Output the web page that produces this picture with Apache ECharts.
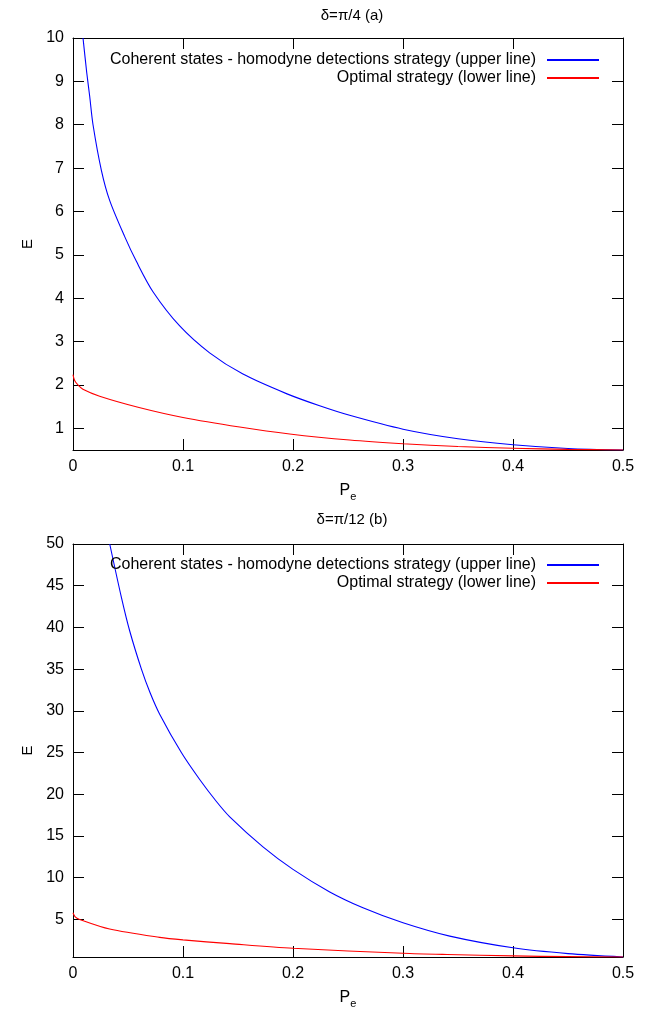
<!DOCTYPE html>
<html>
<head>
<meta charset="utf-8">
<script src="https://cdn.jsdelivr.net/npm/echarts@6/dist/echarts.min.js"></script>
<style>
html,body{margin:0;padding:0;background:#fff;}
#main{width:665px;height:1019px;}
</style>
</head>
<body>
<div id="main"></div>
<script>
// ---- data ----
const titleA = 'δ=π/4 (a)';
const titleB = 'δ=π/12 (b)';
const nameUpper = 'Coherent states - homodyne detections strategy (upper line)';
const nameLower = 'Optimal strategy (lower line)';

// Plot (a): delta = pi/4
const upperA_Pe = [0.0091,0.0125,0.0152,0.0182,0.0258,0.0334,0.047,0.0576,0.0727,0.097,0.1242,0.1545,0.194,0.2242,0.2515,0.3,0.35,0.4,0.45,0.5];
const upperA_E  = [10,9.2,8.65,8.0,6.95,6.25,5.42,4.85,4.15,3.36,2.74,2.25,1.80,1.52,1.30,0.98,0.76,0.62,0.535,0.5];
const lowerA_Pe = [0,0.0015,0.0045,0.009,0.0242,0.06,0.1,0.1515,0.197,0.2515,0.3,0.35,0.4,0.45,0.5];
const lowerA_E  = [2.24,2.1,2.0,1.9,1.74,1.48,1.25,1.03,0.87,0.73,0.645,0.58,0.54,0.515,0.5];

// Plot (b): delta = pi/12
const upperB_Pe = [0.0334,0.044,0.0515,0.0622,0.07,0.0788,0.0985,0.115,0.13,0.1425,0.1727,0.2,0.2334,0.2636,0.3,0.3425,0.4,0.45,0.5];
const upperB_E  = [50,43.6,39.6,35.0,32.2,29.6,25.0,21.8,19.2,17.3,13.7,11.0,8.3,6.4,4.6,3.0,1.6,0.9,0.5];
const lowerB_Pe = [0,0.002,0.006,0.0333,0.0788,0.1,0.1425,0.2,0.3,0.34,0.4,0.45,0.5];
const lowerB_E  = [5.8,5.3,5.0,3.85,2.85,2.55,2.1,1.55,0.95,0.8,0.63,0.54,0.5];

// axes / ticks
const xMin = 0, xMax = 0.5, xStep = 0.1;
const yA_min = 0.5, yA_max = 10, yA_ticks = [1,2,3,4,5,6,7,8,9,10];
const yB_min = 0.5, yB_max = 50, yB_ticks = [5,10,15,20,25,30,35,40,45,50];

const zip = (a, b) => a.map((v, i) => [v, b[i]]);

const FONT = 'Liberation Sans, Arial, Helvetica, sans-serif';
const FS = 16;
const BLUE = '#0000ff', RED = '#ff0000';

function xAxisCfg(gi, mirror) {
  return {
    type: 'value', gridIndex: gi, min: xMin, max: xMax, interval: xStep,
    position: mirror ? 'top' : 'bottom',
    name: mirror ? '' : '{p|P}{s|e}',
    nameLocation: 'middle', nameGap: 30,
    nameTextStyle: {
      color: '#000', fontFamily: FONT,
      rich: {
        p: {fontSize: FS, fontFamily: FONT, color: '#000'},
        s: {fontSize: 11, fontFamily: FONT, color: '#000', padding: [11, 0, 0, 0]}
      }
    },
    axisLine: {show: true, onZero: false, lineStyle: {color: '#000', width: 1}},
    axisTick: {show: true, inside: true, length: 11, lineStyle: {color: '#000'}},
    axisLabel: {show: !mirror, color: '#000', fontSize: FS, fontFamily: FONT, margin: 9,
      formatter: v => (Math.round(v * 10) / 10).toString()},
    splitLine: {show: false}
  };
}
function yAxisCfg(gi, mirror, mn, mx, ticks) {
  return {
    type: 'value', gridIndex: gi, min: mn, max: mx,
    position: mirror ? 'right' : 'left',
    name: mirror ? '' : 'E',
    nameLocation: 'middle', nameGap: 36, nameRotate: 90,
    nameTextStyle: {color: '#000', fontSize: FS - 1, fontFamily: FONT},
    axisLine: {show: true, onZero: false, lineStyle: {color: '#000', width: 1}},
    axisTick: {show: true, inside: true, length: 11, customValues: ticks, lineStyle: {color: '#000'}},
    axisLabel: {show: !mirror, customValues: ticks, color: '#000', fontSize: FS, fontFamily: FONT, margin: 9},
    splitLine: {show: false}
  };
}
function lineSeries(name, xi, yi, data, color) {
  return {
    name: name, type: 'line', xAxisIndex: xi, yAxisIndex: yi,
    data: data, showSymbol: false, symbol: 'none',
    smooth: 0.3, clip: true,
    lineStyle: {color: color, width: 1.1}, itemStyle: {color: color},
    animation: false
  };
}
function legendCfg(top) {
  return {
    orient: 'vertical', right: 61, top: top, align: 'right',
    itemWidth: 52, itemHeight: 2, itemGap: 2, icon: 'rect',
    selectedMode: false,
    textStyle: {color: '#000', fontSize: FS, fontFamily: FONT, padding: [0, 6, 0, 0]},
    data: [nameUpper, nameLower]
  };
}

const chart = echarts.init(document.getElementById('main'), null, {renderer: 'canvas'});
chart.setOption({
  backgroundColor: '#fff',
  animation: false,
  title: [
    {text: titleA, left: 347, top: 3, textAlign: 'center',
     textStyle: {fontSize: 15, fontWeight: 'normal', color: '#000', fontFamily: FONT}},
    {text: titleB, left: 347, top: 507, textAlign: 'center',
     textStyle: {fontSize: 15, fontWeight: 'normal', color: '#000', fontFamily: FONT}}
  ],
  legend: [legendCfg(47), legendCfg(552)],
  grid: [
    {left: 73, right: 42, top: 38, height: 412, show: false},
    {left: 73, right: 42, top: 544, height: 413, show: false}
  ],
  xAxis: [xAxisCfg(0, false), xAxisCfg(0, true), xAxisCfg(1, false), xAxisCfg(1, true)],
  yAxis: [
    yAxisCfg(0, false, yA_min, yA_max, yA_ticks), yAxisCfg(0, true, yA_min, yA_max, yA_ticks),
    yAxisCfg(1, false, yB_min, yB_max, yB_ticks), yAxisCfg(1, true, yB_min, yB_max, yB_ticks)
  ],
  series: [
    lineSeries(nameUpper, 0, 0, zip(upperA_Pe, upperA_E), BLUE),
    lineSeries(nameLower, 0, 0, zip(lowerA_Pe, lowerA_E), RED),
    lineSeries(nameUpper, 2, 2, zip(upperB_Pe, upperB_E), BLUE),
    lineSeries(nameLower, 2, 2, zip(lowerB_Pe, lowerB_E), RED)
  ]
});
</script>
</body>
</html>
